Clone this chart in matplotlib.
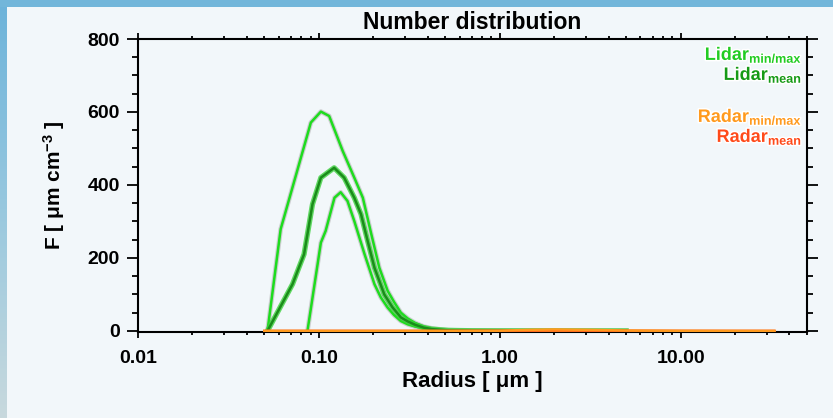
import numpy as np
import matplotlib
matplotlib.use('Agg')
import matplotlib.pyplot as plt
import matplotlib.patheffects as pe
from matplotlib.colors import LinearSegmentedColormap
from matplotlib.patches import Rectangle
from matplotlib.ticker import FixedLocator, FixedFormatter, LogLocator, MultipleLocator, NullFormatter

plt.rcParams['font.family'] = ['Liberation Sans', 'DejaVu Sans']
plt.rcParams['mathtext.fontset'] = 'custom'
plt.rcParams['mathtext.rm'] = 'Liberation Sans:bold'
plt.rcParams['mathtext.bf'] = 'Liberation Sans:bold'
plt.rcParams['mathtext.it'] = 'Liberation Sans:bold:italic'

# ---------------- data ----------------
x_ticks = [0.01, 0.1, 1.0, 10.0]
x_tick_labels = ['0.01', '0.10', '1.00', '10.00']
y_ticks = [0, 200, 400, 600, 800]

r_lidar_max = [0.052, 0.0615, 0.0903, 0.1026, 0.114, 0.1355, 0.157, 0.175, 0.195, 0.216, 0.24, 0.26, 0.284,
               0.31, 0.34, 0.38, 0.42, 0.47, 0.52, 0.7, 1.0, 2.0, 5.0]
v_lidar_max = [0, 279, 571, 601, 589, 493, 420, 365, 265, 173, 110, 80, 50,
               34, 22, 12, 7, 4, 2, 0.5, 0.2, 0.1, 0]

r_lidar_mean = [0.052, 0.0715, 0.0828, 0.0922, 0.1026, 0.1215, 0.138, 0.157, 0.171, 0.186, 0.203, 0.23, 0.255,
                0.284, 0.31, 0.34, 0.38, 0.42, 0.47, 0.52, 0.7, 1.0, 2.0, 5.0]
v_lidar_mean = [0, 128, 210, 347, 420, 447, 420, 365, 320, 247, 173, 100, 65,
                37, 26, 17, 9, 5, 3, 1.5, 0.5, 0.2, 0.1, 0]

r_lidar_min = [0.0865, 0.1026, 0.109, 0.122, 0.132, 0.144, 0.157, 0.179, 0.203, 0.22, 0.24, 0.26, 0.284,
               0.31, 0.34, 0.38, 0.42, 0.47, 0.52, 0.7, 1.0, 2.0, 5.0]
v_lidar_min = [0, 242, 274, 365, 380, 356, 301, 210, 128, 92, 64, 44, 27,
               18, 12, 7, 4, 2, 1, 0.4, 0.2, 0.1, 0]

r_radar = [0.05, 0.1, 0.5, 1.0, 1.5, 2.0, 3.0, 5.0, 10.0, 20.0, 33.0]
v_radar_max = [0, 0, 0, 0.5, 3, 4, 3, 1, 0.3, 0.1, 0]
v_radar_min = [0, 0, 0, 0, 0, 0, 0, 0, 0, 0, 0]
v_radar_mean = [0, 0, 0, 0.3, 1.5, 2, 1.5, 0.5, 0.1, 0, 0]

legend_labels = [r'$\mathbf{Lidar}_{\mathbf{min/max}}$', r'$\mathbf{Lidar}_{\mathbf{mean}}$',
                 r'$\mathbf{Radar}_{\mathbf{min/max}}$', r'$\mathbf{Radar}_{\mathbf{mean}}$']
legend_colors = ['#22cc22', '#169a16', '#ff9a1e', '#ff4a1a']

# ---------------- figure ----------------
W, H = 833, 418
fig = plt.figure(figsize=(W / 100, H / 100), dpi=100)
fig.patch.set_facecolor('#f2f7fa')

bg = fig.add_axes([0, 0, 1, 1], zorder=-10)
bg.axis('off')
bg.set_xlim(0, W)
bg.set_ylim(H, 0)
grad = np.linspace(0, 1, 256)[:, None]
cmap = LinearSegmentedColormap.from_list('strip', ['#6cb3da', '#98c8df', '#c8d9dd'])
bg.imshow(grad, extent=[0, 7, H, 0], cmap=cmap, aspect='auto')
bg.add_patch(Rectangle((0, 0), W, 7, color='#72b6da', lw=0))

ax = fig.add_axes([138 / W, 1 - 332 / H, (807 - 138) / W, (332 - 39) / H])
ax.set_facecolor('none')

halo = [pe.Stroke(linewidth=3.4, foreground='#a8a8a8', alpha=0.5), pe.Normal()]
lw = 1.8
ax.plot(r_lidar_max, v_lidar_max, color='#1edc1e', lw=lw, path_effects=halo, zorder=3)
ax.plot(r_lidar_min, v_lidar_min, color='#1edc1e', lw=lw, path_effects=halo, zorder=3)
ax.plot(r_lidar_mean, v_lidar_mean, color='#1a8c1a', lw=lw,
        path_effects=[pe.Stroke(linewidth=3.8, foreground='#3cd03c', alpha=0.8), pe.Normal()], zorder=4)
ax.plot(r_radar, v_radar_min, color='#ff9a1e', lw=lw, zorder=5)
ax.plot(r_radar, v_radar_mean, color='#ff4a1a', lw=lw, zorder=5)
ax.plot(r_radar, v_radar_max, color='#ff9a1e', lw=lw, zorder=6)

ax.set_xscale('log')
ax.set_xlim(0.01, 50)
ax.set_ylim(-3, 800)

ax.xaxis.set_major_locator(FixedLocator(x_ticks))
ax.xaxis.set_major_formatter(FixedFormatter(x_tick_labels))
ax.xaxis.set_minor_locator(LogLocator(base=10, subs=np.arange(2, 10)))
ax.xaxis.set_minor_formatter(NullFormatter())
ax.yaxis.set_major_locator(FixedLocator(y_ticks))
ax.yaxis.set_minor_locator(MultipleLocator(50))

for s in ax.spines.values():
    s.set_linewidth(1.5)

ax.tick_params(axis='both', which='both', direction='out', top=True, right=True,
               labeltop=False, labelright=False, width=1.3, labelsize=14)
ax.tick_params(axis='x', which='major', length=4, pad=9)
ax.tick_params(axis='x', which='minor', length=2.2)
ax.tick_params(axis='y', which='major', length=8, pad=5)
ax.tick_params(axis='y', which='minor', length=4)
for lab in ax.get_xticklabels() + ax.get_yticklabels():
    lab.set_fontweight('bold')

ax.set_title('Number distribution', fontsize=16.5, fontweight='bold', pad=7)
ax.set_xlabel('Radius [ μm ]', fontsize=16, fontweight='bold', labelpad=3)
ax.set_ylabel(r'F [ μm cm$^{\mathbf{-3}}$ ]', fontsize=15, fontweight='bold', labelpad=15)

ys = [60, 80, 122, 142]
for lab, col, yy in zip(legend_labels, legend_colors, ys):
    fig.text(802 / W, 1 - yy / H, lab, color=col, fontsize=13, ha='right', va='baseline',
             path_effects=[pe.withStroke(linewidth=2.2, foreground='white')])

fig.savefig('out.png', dpi=100, facecolor=fig.get_facecolor())
